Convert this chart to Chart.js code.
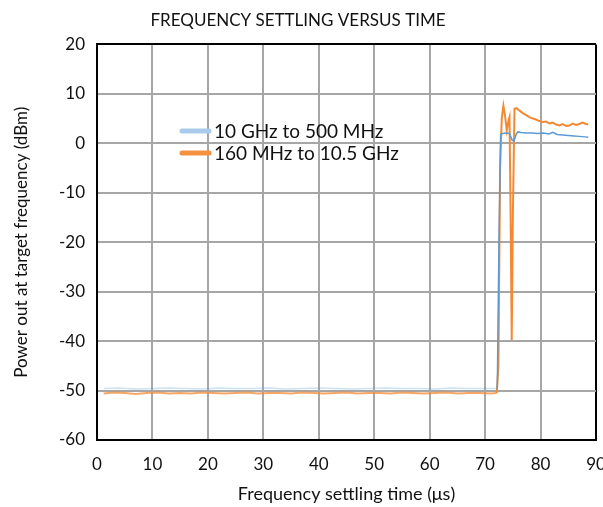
<!DOCTYPE html>
<html>
<head>
<meta charset="utf-8">
<script src="https://cdn.jsdelivr.net/npm/chart.js@4.4.1/dist/chart.umd.min.js"></script>
<style>
  html, body { margin: 0; padding: 0; background: #fff; }
  #wrap { width: 603px; height: 507px; position: relative; }
</style>
</head>
<body>
<div id="wrap"><canvas id="c"></canvas></div>
<script>
// 軸の目盛り
const xTicks = [0, 10, 20, 30, 40, 50, 60, 70, 80, 90];
const yTicks = [20, 10, 0, -10, -20, -30, -40, -50, -60];

// 10 GHz to 500 MHz（青）
const blueX = [1.2, 4, 7, 10, 13, 16, 19, 22, 25, 28, 31, 34, 37, 40, 43, 46, 49, 52, 55, 58, 61, 64, 67, 70, 72.2,
  72.5, 72.8, 73.2, 73.8, 74.4, 74.9, 75.2, 75.6, 75.9, 76.5, 77.5, 78.5, 79.5, 80.5, 81.5, 82.2, 83.0, 84.0,
  85.0, 86.0, 87.0, 88.0, 88.6];
const blueY = [-49.6, -49.5, -49.7, -49.6, -49.5, -49.6, -49.7, -49.5, -49.6, -49.6, -49.5, -49.7, -49.6, -49.5,
  -49.6, -49.7, -49.6, -49.5, -49.6, -49.6, -49.7, -49.5, -49.6, -49.6, -49.6,
  -20, 1.8, 2.0, 2.1, 2.0, 0.6, 0.5, 1.8, 2.3, 2.2, 2.1, 2.1, 2.0, 2.1, 1.9, 2.2, 1.8, 1.7,
  1.6, 1.5, 1.4, 1.3, 1.2];

// 160 MHz to 10.5 GHz（オレンジ）
const orangeX = [1.2, 3, 5, 7, 9, 11, 13, 15, 17, 19, 21, 23, 25, 27, 29, 31, 33, 35, 37, 39, 41, 43, 45, 47, 49,
  51, 53, 55, 57, 59, 61, 63, 65, 67, 69, 71, 72.1,
  72.4, 72.7, 73.0, 73.3, 73.6, 73.9, 74.2, 74.4, 74.6, 74.8, 75.0, 75.3, 75.7, 76.2, 76.8, 77.4, 78.0, 78.6,
  79.2, 79.8, 80.4, 81.0, 81.6, 82.2, 82.8, 83.4, 84.0, 84.6, 85.2, 85.8, 86.4, 87.0, 87.6, 88.2, 88.6];
const orangeY = [-50.6, -50.4, -50.5, -50.7, -50.5, -50.4, -50.6, -50.5, -50.6, -50.4, -50.5, -50.6, -50.5,
  -50.4, -50.6, -50.5, -50.5, -50.6, -50.4, -50.5, -50.6, -50.5, -50.4, -50.6, -50.5, -50.5, -50.6, -50.4,
  -50.5, -50.6, -50.5, -50.4, -50.6, -50.5, -50.5, -50.6, -50.5,
  -45, -5, 5, 7.6, 5.5, 2.6, 4.5, 5.3, -15, -39.8, -15, 7.0, 7.1, 6.6, 6.1, 5.7, 5.3, 5.0,
  4.8, 4.5, 4.3, 4.4, 4.0, 4.2, 3.8, 3.6, 3.9, 3.5, 3.6, 4.0, 3.7, 3.9, 4.2, 3.9, 3.8];

const seriesLabels = ['10 GHz to 500 MHz', '160 MHz to 10.5 GHz'];
const lineColors = ['#5b9bd5', '#f28a35'];
const baseColors = ['rgba(91,155,213,0.3)', 'rgba(242,138,53,0.75)'];
const legendColors = ['#a9cbe9', '#f39140'];

const FONT = 'Lato, "DejaVu Sans", sans-serif';

const toPoints = (xs, ys) => xs.map((x, i) => ({ x: x, y: ys[i] }));

// -50dBm付近の平坦部は薄く描く
const baseSeg = i => ctx => (ctx.p0.parsed.y < -45 && ctx.p1.parsed.y < -45 ? baseColors[i] : undefined);

// グラフ内の凡例（手描き）
const innerLegend = {
  id: 'innerLegend',
  afterDraw(chart) {
    const ctx = chart.ctx;
    ctx.save();
    ctx.font = '19px ' + FONT;
    ctx.textBaseline = 'middle';
    chart.data.datasets.forEach((ds, i) => {
      const y = 131 + i * 22;
      ctx.strokeStyle = legendColors[i];
      ctx.lineWidth = 5;
      ctx.lineCap = 'round';
      ctx.beginPath();
      ctx.moveTo(182, y);
      ctx.lineTo(209, y);
      ctx.stroke();
      ctx.fillStyle = '#111';
      ctx.fillText(ds.label, 214, y + 1);
    });
    ctx.restore();
  }
};

new Chart(document.getElementById('c'), {
  type: 'line',
  data: {
    datasets: [
      {
        label: seriesLabels[0],
        data: toPoints(blueX, blueY),
        borderColor: lineColors[0],
        borderWidth: 1.5,
        pointRadius: 0,
        tension: 0,
        segment: { borderColor: baseSeg(0) },
      },
      {
        label: seriesLabels[1],
        data: toPoints(orangeX, orangeY),
        borderColor: lineColors[1],
        borderWidth: 2,
        pointRadius: 0,
        tension: 0,
        segment: { borderColor: baseSeg(1) },
      },
    ],
  },
  options: {
    responsive: true,
    maintainAspectRatio: false,
    animation: false,
    events: [],
    layout: { padding: { left: 0, right: 7, top: 0, bottom: 0 } },
    scales: {
      x: {
        type: 'linear',
        min: 0,
        max: 90,
        afterBuildTicks: axis => { axis.ticks = xTicks.map(v => ({ value: v })); },
        afterFit: axis => {
          axis.height = 67;
          axis.paddingLeft = 0;
          axis.paddingRight = 0;
        },
        border: { color: '#000', width: 2 },
        grid: {
          color: c => (c.tick && c.tick.value === 90 ? '#000' : '#a6a6a6'),
          lineWidth: 2,
          drawTicks: false,
        },
        ticks: { color: '#111', font: { size: 17, family: FONT }, padding: 14, maxRotation: 0 },
        title: {
          display: true,
          text: 'Frequency settling time (μs)',
          color: '#111',
          font: { size: 18, family: FONT },
          padding: { top: 0, bottom: 2 },
        },
      },
      y: {
        min: -60,
        max: 20,
        afterBuildTicks: axis => { axis.ticks = yTicks.map(v => ({ value: v })); },
        afterFit: axis => { axis.width = 97; },
        border: { color: '#000', width: 2 },
        grid: {
          color: c => (c.tick && c.tick.value === 20 ? '#000' : '#a6a6a6'),
          lineWidth: 2,
          drawTicks: false,
        },
        ticks: { color: '#111', font: { size: 17, family: FONT }, padding: 12 },
        title: {
          display: true,
          text: 'Power out at target frequency (dBm)',
          color: '#111',
          font: { size: 17, family: FONT },
          padding: { top: 11, bottom: 0 },
        },
      },
    },
    plugins: {
      legend: { display: false },
      tooltip: { enabled: false },
      title: {
        display: true,
        text: 'FREQUENCY SETTLING VERSUS TIME',
        color: '#111',
        font: { size: 17, family: FONT, weight: 'normal' },
        padding: { top: 10, bottom: 14 },
      },
    },
  },
  plugins: [innerLegend],
});
</script>
</body>
</html>
